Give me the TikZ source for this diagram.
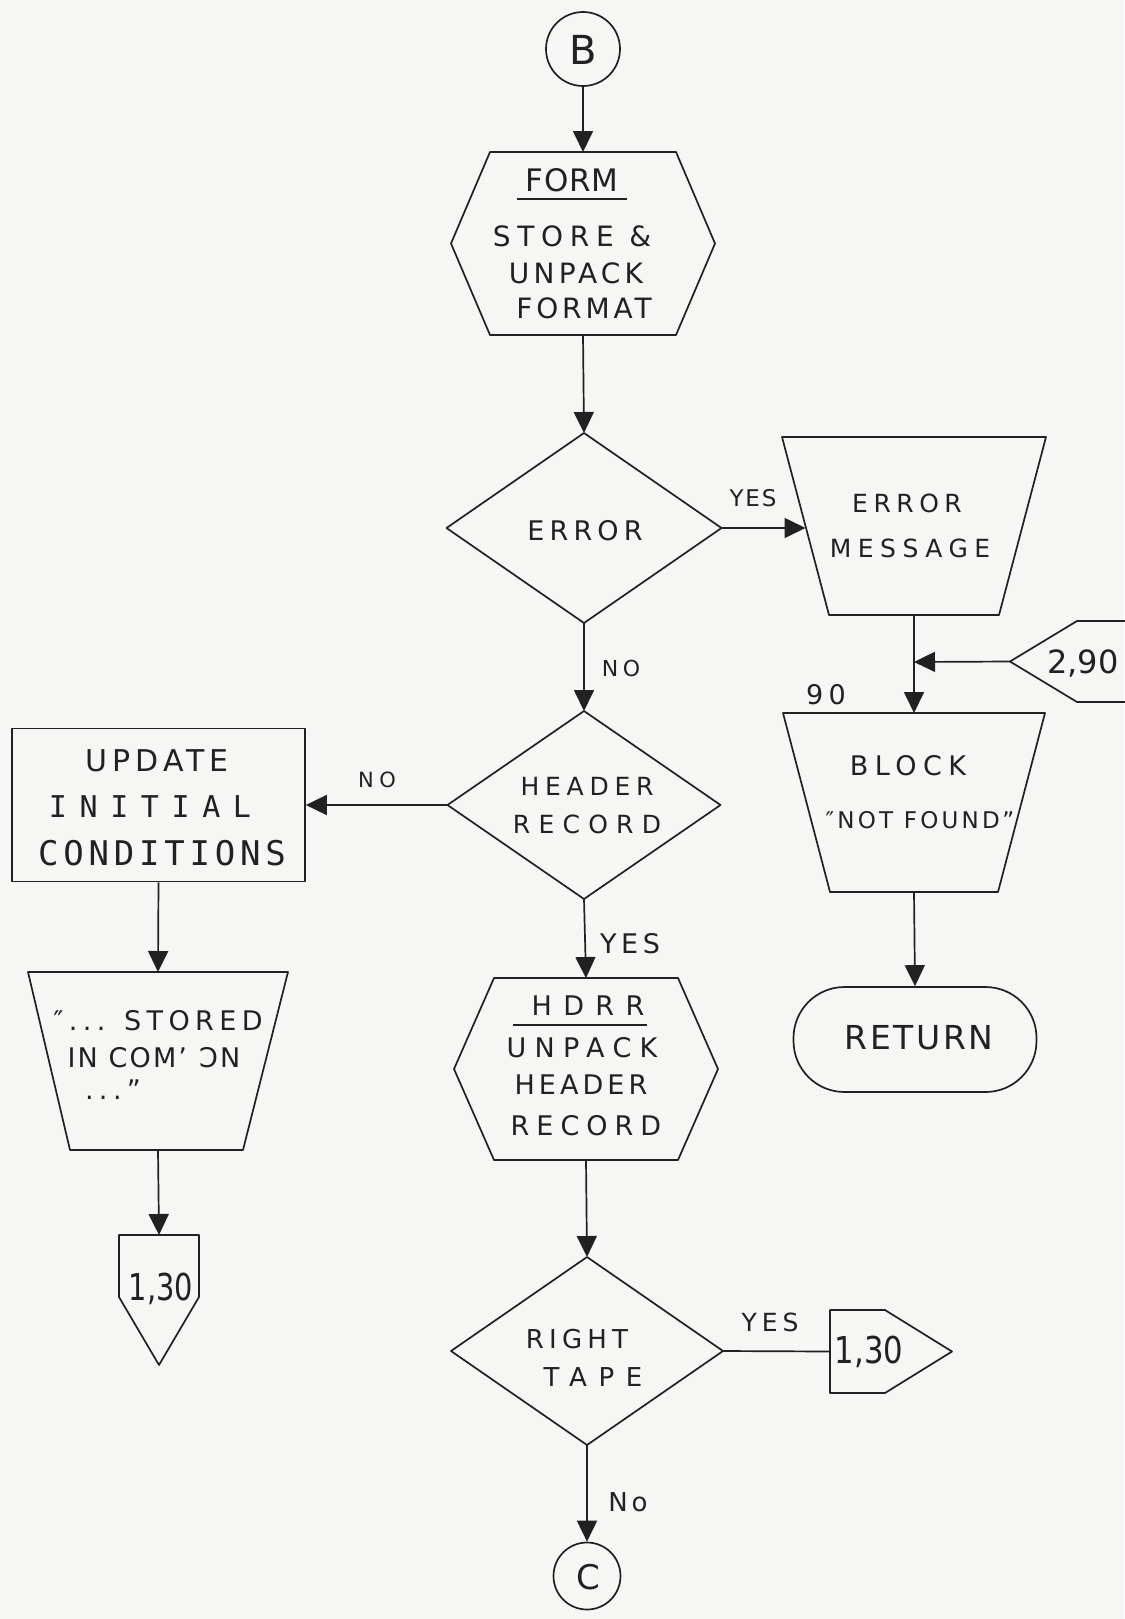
\documentclass[tikz,border=0pt]{standalone}
\usepackage{fontspec}
\setmainfont{DejaVu Sans}
\newfontfamily\monofam{DejaVu Sans Mono}
\usetikzlibrary{arrows.meta,shapes.geometric}
\definecolor{ink}{rgb}{0.13,0.13,0.13}
\definecolor{paper}{rgb}{0.965,0.965,0.955}
\begin{document}
\begin{tikzpicture}[x=1pt,y=-1pt,
  ln/.style={line width=1.7pt,draw=ink,line join=round},
  arr/.style={ln,-{Triangle[length=21pt,width=20pt]}},
  hold/.style={inner sep=0pt,outer sep=0pt,draw=none},
  tx/.style 2 args={inner sep=0pt,outer sep=0pt,text=ink,text depth=0pt,font=\fontsize{#1}{#1}\selectfont\addfontfeature{LetterSpace=#2}},
  txm/.style 2 args={inner sep=0pt,outer sep=0pt,text=ink,text depth=0pt,font=\monofam\fontsize{#1}{#1}\selectfont\addfontfeature{LetterSpace=#2}},
  dia/.style={diamond,ln,inner sep=0pt,outer sep=0pt},
]
\useasboundingbox (0,0) rectangle (1124,1619);
\fill[paper] (0,0) rectangle (1124,1619);

% B connector
\node[circle,ln,minimum size=74pt,inner sep=0pt] (B) at (583,49) {};
\node[tx={40}{0}] (Bt) at (583,50) {B};

% FORM hexagon
\node[hold,minimum width=264pt,minimum height=183pt] (form) at (583,243.5) {};
\draw[ln] ([xshift=39pt]form.north west) -- ([xshift=-39pt]form.north east) -- (form.east)
  -- ([xshift=-39pt]form.south east) -- ([xshift=39pt]form.south west) -- (form.west) -- cycle;
\node[tx={31}{2}] (form1) at (572,180) {FORM};
\draw[ln] (517,199) -- (627,199);
\node[tx={28}{24}] (form2) at (572,236) {STORE \&};
\node[tx={28}{15}] (form3) at (576,273) {UNPACK};
\node[tx={28}{14}] (form4) at (584,308) {FORMAT};
\draw[arr] (B.south) -- (form.north);

% ERROR diamond
\node[dia,minimum width=275pt,minimum height=190pt] (err) at (584,528) {};
\node[tx={27}{19}] (errt) at (585,530) {ERROR};
\draw[arr] (form.south) -- (err.north);

% ERROR MESSAGE
\node[hold,minimum width=264pt,minimum height=178pt] (msg) at (914,526) {};
\draw[ln] (msg.north west) -- (msg.north east) -- ([xshift=-47pt]msg.south east)
  -- ([xshift=47pt]msg.south west) -- cycle;
\coordinate (msgin) at (805.5,528);
\node[tx={25}{22}] (msg1) at (907,503) {ERROR};
\node[tx={25}{26}] (msg2) at (910,548) {MESSAGE};
\draw[arr] (err.east) -- (msgin);
\node[tx={23}{8}] (yes1) at (753,498) {YES};

% 2,90 connector and junction
\coordinate (jn) at (914,662);
\node[hold,minimum width=140pt,minimum height=81pt] (c290) at (1080,661.5) {};
\draw[ln] (1150,621) -- (1077,621) -- (c290.west) -- (1077,702) -- (1150,702);
\node[tx={32}{0}] (c290t) at (1083,662) {2,90};

% BLOCK NOT FOUND
\node[hold,minimum width=262pt,minimum height=179pt] (block) at (914,802.5) {};
\draw[ln] (block.north west) -- (block.north east) -- ([xshift=-47pt]block.south east)
  -- ([xshift=47pt]block.south west) -- cycle;
\node[tx={27}{24}] (block1) at (908,765) {BLOCK};
\node[tx={23}{14}] (block2) at (920,820) {″NOT FOUND”};
\node[tx={27}{20}] (n90) at (826,694) {90};
\draw[ln] (msg.south) -- (jn);
\draw[arr] (jn) -- (block.north);
\draw[arr] (c290.west) -- (jn);

% RETURN
\node[rectangle,ln,rounded corners=51pt,minimum width=243pt,minimum height=105pt,inner sep=0pt] (ret) at (915,1039.5) {};
\node[tx={33}{8}] (rett) at (919,1037) {RETURN};
\draw[arr] (block.south) -- (ret.north);

% HEADER RECORD diamond
\node[dia,minimum width=273pt,minimum height=188pt] (hdr) at (584,805) {};
\node[tx={25}{23}] (hdr1) at (587,786) {HEADER};
\node[tx={25}{33}] (hdr2) at (587,824) {RECORD};
\draw[arr] (err.south) -- (hdr.north);
\node[tx={22}{20}] (no1) at (621,668) {NO};

% UPDATE INITIAL CONDITIONS
\node[rectangle,ln,minimum width=293pt,minimum height=153pt,inner sep=0pt] (upd) at (158.5,805) {};
\node[tx={30}{17}] (upd1) at (157,761) {UPDATE};
\node[txm={30}{42}] (upd2) at (150,807) {INITIAL};
\node[txm={34}{14}] (upd3) at (162,853) {CONDITIONS};
\draw[arr] (hdr.west) -- (upd.east);
\node[tx={21}{27}] (no2) at (377,780) {NO};

% STORED IN COMMON
\node[hold,minimum width=260pt,minimum height=178pt] (sto) at (158,1061) {};
\draw[ln] (sto.north west) -- (sto.north east) -- ([xshift=-45pt]sto.south east)
  -- ([xshift=42pt]sto.south west) -- cycle;
\node[tx={27}{20}] (sto1) at (158,1020) {″... STORED};
\node[tx={27}{8}] (sto2) at (154,1057) {IN COM'\hspace{12pt}ƆN};
\node[tx={27}{20}] (sto3) at (113,1090) {...”};
\draw[arr] (upd.south) -- (sto.north);

% 1,30 off-page (left)
\node[hold,minimum width=80pt,minimum height=130pt] (ca) at (159,1300) {};
\draw[ln] (ca.north west) -- (ca.north east) -- ([yshift=68pt]ca.south east) -- (ca.south)
  -- ([yshift=68pt]ca.south west) -- cycle;
\node[tx={37}{0}] (cat) at (161,1287) {\scalebox{0.78}[1]{1,30}};
\draw[arr] (sto.south) -- (ca.north);

% HDRR hexagon
\node[hold,minimum width=264pt,minimum height=182pt] (hdrr) at (586,1069) {};
\draw[ln] ([xshift=40pt]hdrr.north west) -- ([xshift=-40pt]hdrr.north east) -- (hdrr.east)
  -- ([xshift=-40pt]hdrr.south east) -- ([xshift=40pt]hdrr.south west) -- (hdrr.west) -- cycle;
\node[tx={27}{42}] (hdrr1) at (588,1006) {HDRR};
\draw[ln] (513,1025) -- (647,1025);
\node[tx={27}{31}] (hdrr2) at (582,1047) {UNPACK};
\node[tx={27}{15}] (hdrr3) at (581,1085) {HEADER};
\node[tx={27}{26}] (hdrr4) at (586,1125) {RECORD};
\draw[arr] (hdr.south) -- (hdrr.north);
\node[tx={27}{17}] (yes2) at (630,943) {YES};

% RIGHT TAPE diamond
\node[dia,minimum width=272pt,minimum height=188pt] (tape) at (587,1351) {};
\node[tx={26}{20}] (tape1) at (577,1339) {RIGHT};
\node[tx={26}{45}] (tape2) at (593,1377) {TAPE};
\draw[arr] (hdrr.south) -- (tape.north);

% 1,30 off-page (right)
\node[hold,minimum width=122pt,minimum height=83pt] (cb) at (891,1351.5) {};
\draw[ln] (cb.north west) -- ([xshift=-67pt]cb.north east) -- (cb.east)
  -- ([xshift=-67pt]cb.south east) -- (cb.south west) -- cycle;
\node[tx={37}{0}] (cbt) at (869,1350) {\scalebox{0.83}[1]{1,30}};
\draw[ln] (tape.east) -- (cb.west);
\node[tx={25}{20}] (yes3) at (770,1322) {YES};

% C connector
\node[circle,ln,minimum size=67pt,inner sep=0pt] (C) at (587,1576) {};
\node[tx={34}{0}] (Ct) at (588,1577) {C};
\draw[arr] (tape.south) -- (C.north);
\node[tx={26}{15}] (no3) at (628,1502) {No};
\end{tikzpicture}
\end{document}
